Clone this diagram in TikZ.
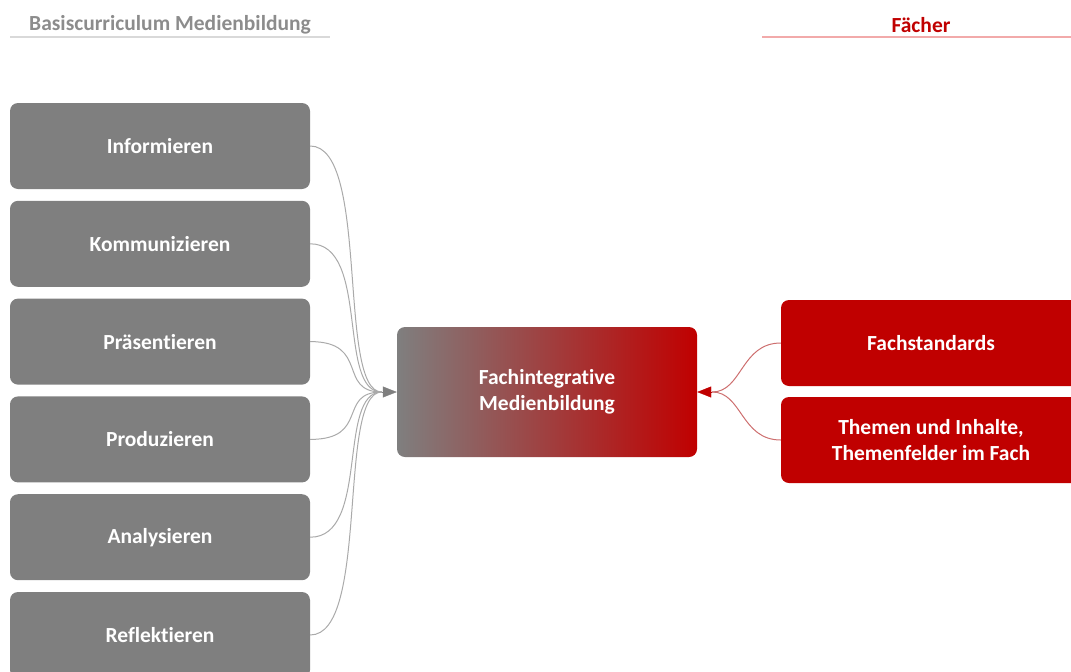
\documentclass[tikz,border=0pt]{standalone}
\usepackage{fontspec}
\setmainfont[Ligatures = NoCommon]{Carlito}
\usetikzlibrary{arrows.meta}
\definecolor{boxGray}{RGB}{127,127,127}
\definecolor{boxRed}{RGB}{192,0,0}
\definecolor{headGray}{RGB}{140,140,140}
\definecolor{ruleGray}{RGB}{217,217,217}
\definecolor{ruleRed}{RGB}{242,170,170}
\definecolor{linkGray}{RGB}{170,170,170}
\definecolor{linkRed}{RGB}{205,110,110}
\tikzstyle{canvas} = [x = 1pt, y = -1pt]
\tikzstyle{boxStyle} = [rounded corners = 8pt, minimum width = 300pt, minimum height = 86pt, text = white, align = center, font = \bfseries\fontsize{21.5}{26}\selectfont]
\tikzstyle{grayBox} = [boxStyle, fill = boxGray]
\tikzstyle{redBox} = [boxStyle, fill = boxRed]
\tikzstyle{mixBox} = [boxStyle, minimum height = 130pt, left color = boxGray, right color = boxRed]
\tikzstyle{headText} = [font = \bfseries\fontsize{21.5}{24}\selectfont]
\tikzstyle{headRule} = [line width = 2.5pt]
\tikzstyle{grayLink} = [color = linkGray, line width = 1pt]
\tikzstyle{redLink} = [color = linkRed, line width = 1pt]
\tikzstyle{tipStyle} = [-{Triangle[length = 14pt, width = 11pt]}]

\begin{document}
\begin{tikzpicture}[canvas]
  \useasboundingbox (0,0) rectangle (1071,672);
  \clip (0,0) rectangle (1071,672);

  % headings
  \node [headText, text = headGray] (headLeft) at (170,25) {Basiscurriculum Medienbildung};
  \node [headText, text = boxRed] (headRight) at (921,25) {Fächer};
  \draw [headRule, ruleGray] (10,37) -- (330,37);
  \draw [headRule, ruleRed] (762,37) -- (1071,37);

  % middle
  \node [mixBox] (fachMedien) at (547,392) {Fachintegrative\\Medienbildung};
  \coordinate (leftIn) at ([xshift = -15pt]fachMedien.west);
  \coordinate (rightIn) at ([xshift = 15pt]fachMedien.east);

  % Basiscurriculum
  \foreach \name/\label [count = \i from 0] in {inf/Informieren, kom/Kommunizieren, pra/Präsentieren, pro/Produzieren, ana/Analysieren, ref/Reflektieren} {
    \node [grayBox] (\name) at (160, {146 + 97.8 * \i}) {\label};
    \draw [grayLink] (\name.east) .. controls +(60,0) and +(-45,0) .. (leftIn);
  }
  \draw [tipStyle, color = boxGray] (leftIn) -- (fachMedien.west);

  % Faecher
  \node [redBox] (standards) at (931,343) {Fachstandards};
  \node [redBox] (themen) at (931,440) {Themen und Inhalte,\\Themenfelder im Fach};
  \draw [redLink] (standards.west) .. controls +(-40,0) and +(30,0) .. (rightIn);
  \draw [redLink] (themen.west) .. controls +(-40,0) and +(30,0) .. (rightIn);
  \draw [tipStyle, color = boxRed] (rightIn) -- (fachMedien.east);
\end{tikzpicture}
\end{document}
